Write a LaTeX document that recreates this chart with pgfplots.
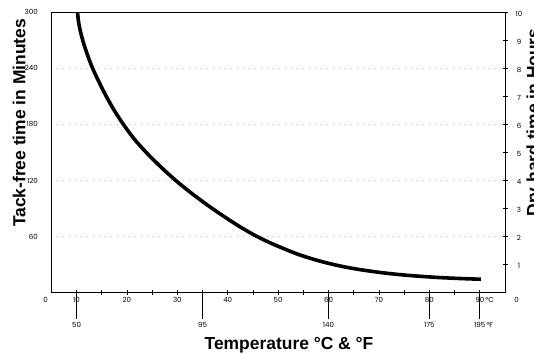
\documentclass[border=0pt]{standalone}
\usepackage{pgfplots}
\pgfplotsset{compat=1.18}
\usepackage{fontspec}
\setmainfont{Liberation Sans}
\newfontfamily\tickfont{Poppins}
\begin{document}
\begin{tikzpicture}
\useasboundingbox (0bp,0bp) rectangle (534bp,353bp);
\pgfplotsset{
  common/.style={
    at={(51.3bp,60.5bp)}, anchor=south west,
    scale only axis, width=453.7bp, height=280.2bp,
    xmin=5, xmax=95,
    axis line style={line width=0.8bp},
    every tick/.style={black, line width=0.8bp},
    /pgf/number format/assume math mode=true,
    tick label style={font=\tickfont\fontsize{7.1}{8.5}\selectfont},
  }
}
\begin{axis}[common,
  ymin=0, ymax=300,
  xtick={10,20,...,90}, minor xtick={15,25,...,85},
  xticklabels={10,20,30,40,50,60,70,80,90\rlap{\,°C}},
  xtick pos=left, tick align=center,
  major tick length=5bp, minor tick length=5bp,
  xticklabel style={fill=white, inner sep=1.5bp, yshift=-1bp},
  ytick={60,120,...,300}, ytick pos=left,
  ytick style={draw=none},
  yticklabel style={xshift=-7.5bp},
  ymajorgrids,
  grid style={gray!55, line width=1bp, dash pattern=on 1bp off 5bp},
  extra x ticks={10,35,60,80,90},
  extra x tick labels={50,95,140,175,195\rlap{\,°F}},
  extra x tick style={major tick length=27bp, tick align=outside, grid=none},
  extra y ticks={0}, extra y tick labels={0},
  extra y tick style={grid=none, major tick length=0pt,
    yticklabel style={xshift=7.5bp, yshift=-7.5bp}},
]
\addplot[black, line width=3.6bp, smooth] coordinates {
(10.2,300) (10.4,290) (10.8,279) (11.4,267) (12.2,254) (13.2,240)
(14.5,225) (16.0,209) (17.6,194) (19.3,180) (21.5,164) (24.0,149)
(27.0,133) (30.0,118.5) (33.0,105.5) (36.0,93.5) (39.0,82.3) (42.0,71.8)
(45.0,62.3) (48.0,54.2) (51.0,47.2) (54.0,40.8) (57.0,35.6) (60.0,31.2)
(63.0,27.6) (66.0,24.7) (70.0,21.6) (74.0,19.2) (78.0,17.4) (82.0,16)
(86.0,15) (90.2,14.2)
};
\end{axis}
\begin{axis}[common,
  ymin=0, ymax=10,
  axis x line=none, axis y line*=right,
  ytick={1,2,...,10}, tick align=center, major tick length=5bp,
  yticklabel style={anchor=center, xshift=11.5bp, yshift=-1.5bp},
  extra y ticks={0}, extra y tick labels={0},
  extra y tick style={major tick length=0pt, yticklabel style={yshift=-6bp}},
]
\end{axis}
\node[rotate=90, anchor=base, font=\bfseries\fontsize{17.5}{19}\selectfont] at (25.3bp,230bp) {Tack-free time in Minutes};
\node[rotate=90, anchor=base, font=\bfseries\fontsize{17.5}{19}\selectfont] at (539bp,230.5bp) {Dry hard time in Hours};
\node[anchor=base, font=\bfseries\fontsize{17.5}{19}\selectfont] at (289bp,4bp) {Temperature °C \& °F};
\end{tikzpicture}
\end{document}
